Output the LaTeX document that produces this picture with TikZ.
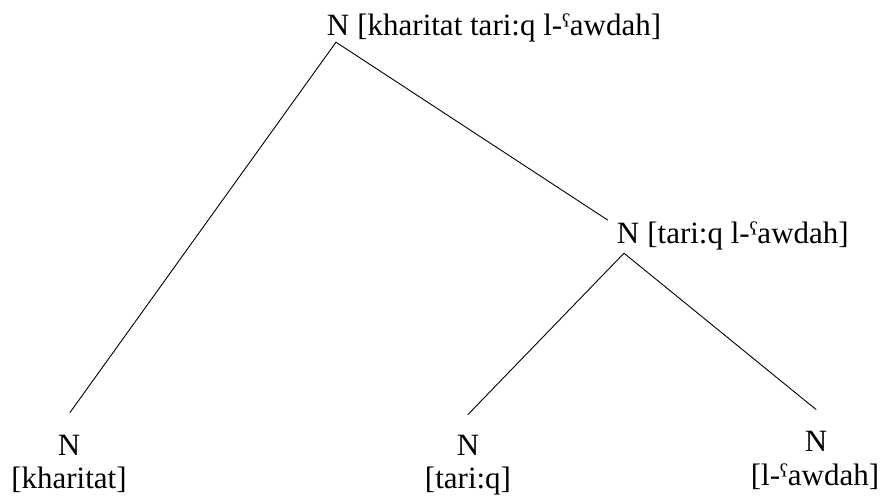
\documentclass[tikz,border=0pt]{standalone}
\usepackage{fontspec}
\setmainfont{Liberation Serif}
\begin{document}
\begin{tikzpicture}[x=1pt,y=-1pt,
  cat/.style={inner sep=0pt,anchor=base,font=\fontsize{31}{33}\selectfont},
  lab/.style={inner sep=0pt,font=\fontsize{31}{33}\selectfont},
  branch/.style={line width=0.9pt,line cap=round}]
\useasboundingbox (0,0) rectangle (880,495);
% category nodes
\node[cat] (nTop) at (338,36) {N};
\node[cat] (nMid) at (628,243) {N};
\node[cat] (nA) at (69,455) {N};
\node[cat] (nB) at (468,455) {N};
\node[cat] (nC) at (816,451) {N};
% bracketed labels
\node[lab,anchor=base west] (tTop) at ([xshift=7.75pt]nTop.base east) {[kharitat tari:q l-ˤawdah]};
\node[lab,anchor=base west] (tMid) at ([xshift=7.75pt]nMid.base east) {[tari:q l-ˤawdah]};
\node[lab,anchor=base] (tA) at (69,488) {[kharitat]};
\node[lab,anchor=base] (tB) at (468,488) {[tari:q]};
\node[lab,anchor=base] (tC) at (815,485) {[l-ˤawdah]};
% branches
\draw[branch] ([xshift=-2pt,yshift=-6pt]nTop.south) -- ([xshift=1pt,yshift=22pt]nA.north);
\draw[branch] ([xshift=-2pt,yshift=-6pt]nTop.south) -- ([xshift=-9pt,yshift=2.5pt]nMid.north west);
\draw[branch] ([xshift=-4pt,yshift=-10pt]nMid.south) -- ([yshift=20pt]nB.north);
\draw[branch] ([xshift=-4pt,yshift=-10pt]nMid.south) -- ([yshift=21pt]nC.north);
\end{tikzpicture}
\end{document}
